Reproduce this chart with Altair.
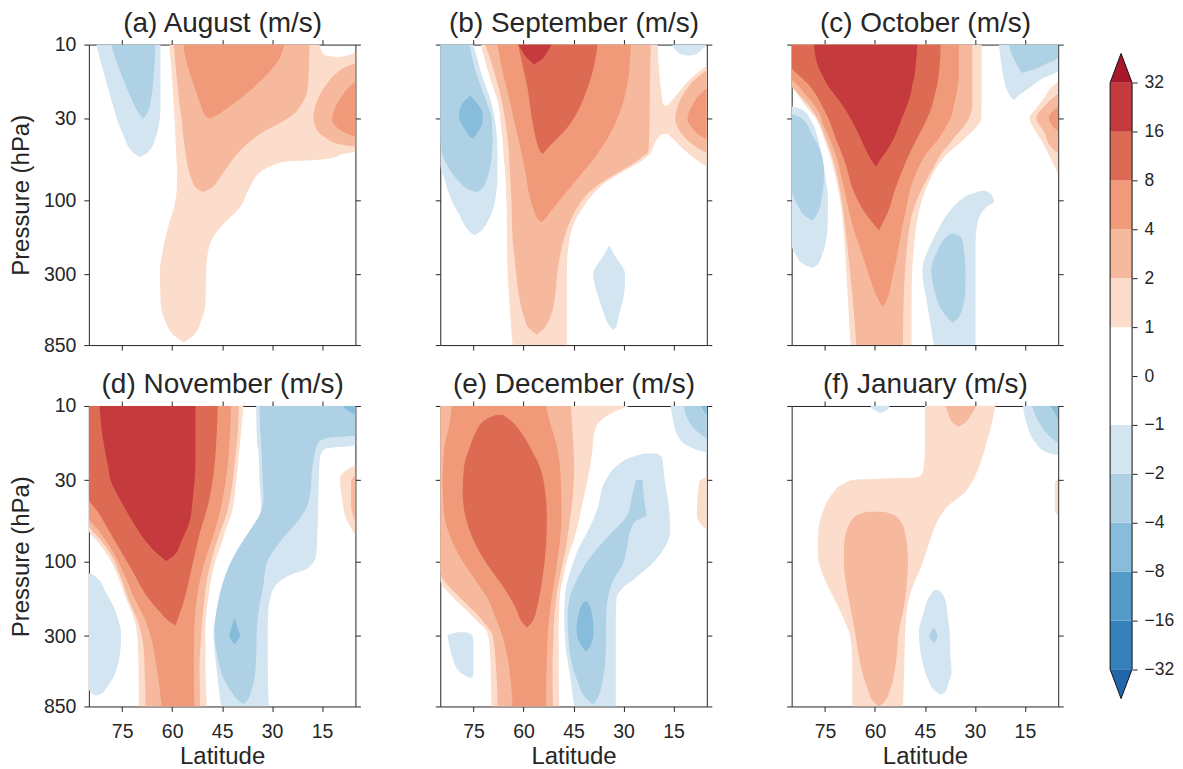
import altair as alt
import pandas as pd

# Contour bands.
# Each band: (level, [(pressure_hPa, poleward_edge_lat, equatorward_edge_lat), ...])
# level k>0 : u >= 1,2,4,8,16 m/s (k=1..5) ; level k<0 : u <= -1,-2,-4,-8,-16 m/s
AUG = [
    (1, [(10, 60.8, 15.8), (11.7, 60.6, 14.3), (12.4, 60.5, 5), (24.4, 59.5, 5), (39.9, 59.0, 5),
         (48.6, 58.8, 5), (50.5, 58.8, 8.8), (53.1, 58.7, 11.3), (55.2, 58.7, 17.8), (56.3, 58.7, 25.8),
         (59.1, 58.6, 29.3), (65.2, 58.5, 33.3), (83.4, 58.6, 36.8), (111.9, 59.5, 39.8), (143, 61.0, 44.8),
         (183, 62.3, 48.3), (234, 63.2, 49.5), (285, 63.7, 49.8), (465, 63.4, 50.0), (594, 62.1, 51.3),
         (723, 59.8, 53.3), (798, 57.3, 55.8), (818, 56.6, 56.6)]),
    (1, [(11.1, 5, 5), (11.7, 7.3, 5), (12.4, 12.8, 5)]),
    (2, [(10, 59.5, 18.8), (15, 58.8, 19.0), (19.1, 58.3, 19.3), (24.4, 57.8, 21.3), (28.3, 57.3, 23.8),
         (32, 57.0, 27.8), (37.1, 56.8, 33.3), (44, 56.3, 37.8), (56.3, 55.6, 42.3), (72, 54.3, 45.8),
         (83.4, 52.8, 48.3), (88.5, 50.8, 50.6)]),
    (2, [(13.2, 5, 5), (13.9, 7.8, 5), (15, 10.3, 5), (18.2, 13.8, 5), (23.3, 16.6, 5), (29.7, 17.6, 5),
         (34.5, 16.8, 5), (39.9, 13.8, 5), (43.6, 9.8, 5), (45.1, 5, 5)]),
    (3, [(10, 56.6, 26.3), (12.3, 56.0, 27.8), (15, 54.8, 30.8), (18.2, 53.5, 34.8), (21.6, 52.3, 38.8),
         (25, 51.3, 42.8), (28.6, 50.0, 46.8), (30, 48.8, 48.8)]),
    (3, [(17.3, 5, 5), (19.1, 7.3, 5), (21.1, 8.8, 5), (25.7, 11.2, 5), (29.7, 12.0, 5), (33.6, 10.8, 5),
         (37.1, 7.8, 5), (39, 5, 5)]),
    (-1, [(10, 82.8, 63.5), (15, 80.6, 63.5), (24.4, 77.8, 63.5), (31.2, 76.3, 63.8), (39.9, 74.3, 65.0),
          (46.3, 72.8, 66.3), (51, 70.8, 68.3), (52.6, 69.6, 69.6)]),
    (-2, [(10, 78.3, 65.0), (12.3, 77.0, 65.2), (16.5, 74.8, 65.6), (22.2, 72.3, 66.3), (27, 70.3, 67.3),
          (29.7, 68.8, 68.6)]),
]

SEP = [
    (1, [(10, 72.8, 19.8), (15, 70.6, 19.3), (19.1, 69.0, 18.8), (24.4, 67.5, 18.0), (25.9, 67.3, 5),
         (35.8, 66.6, 5), (38, 66.4, 18.8), (44, 66.2, 20.8), (51, 66.0, 22.3), (56.3, 65.8, 24.8),
         (62.1, 65.6, 28.3), (68.5, 65.5, 31.8), (79.4, 65.3, 36.3), (92, 65.2, 39.3), (106.6, 65.1, 41.6),
         (136, 65.0, 44.6), (174, 65.0, 46.1), (223, 64.9, 46.8), (285, 64.8, 47.0), (465, 64.2, 47.0),
         (850, 63.3, 47.0)]),
    (1, [(13.6, 5, 5), (16.5, 9.8, 5), (20.1, 13.3, 5), (24.4, 16.6, 5), (25.9, 17.8, 5)]),
    (1, [(35.8, 17.8, 5), (39.9, 15.3, 5), (46.3, 12.3, 5), (53.6, 8.8, 5), (60.6, 5, 5)]),
    (2, [(10, 71.5, 21.8), (15, 68.8, 22.0), (24.4, 66.3, 22.1), (39.9, 64.8, 22.3), (48.6, 64.4, 22.6),
         (53.6, 64.3, 24.8), (60.6, 64.2, 28.5), (72, 64.0, 34.5), (87.6, 63.8, 40.0), (106.6, 63.6, 43.3),
         (136, 63.5, 46.0), (174, 63.3, 47.8), (223, 62.8, 49.0), (285, 62.3, 49.8), (421, 61.3, 50.6),
         (566, 59.8, 52.0), (656, 58.6, 53.6), (730, 56.0, 56.0)]),
    (2, [(14.6, 5, 5), (16.5, 8.3, 5), (20.1, 11.6, 5), (24.4, 13.6, 5), (29.7, 14.5, 5), (36.2, 13.0, 5),
         (42, 10.3, 5), (47.4, 6.8, 5), (49.8, 5, 5)]),
    (3, [(10, 67.8, 27.8), (15, 66.3, 28.3), (22.2, 64.3, 29.8), (29.7, 63.0, 31.8), (39.9, 61.6, 34.8),
         (53.6, 60.3, 38.8), (68.5, 59.3, 42.8), (92, 58.3, 47.8), (117.6, 56.8, 51.8), (133, 55.6, 53.8),
         (137.6, 54.6, 54.6)]),
    (3, [(19.1, 5, 5), (21.1, 7.3, 5), (24.4, 9.3, 5), (29.7, 10.8, 5), (34.5, 9.3, 5), (38, 7.3, 5),
         (40.3, 5, 5)]),
    (4, [(10, 61.6, 37.8), (13.6, 60.3, 38.8), (19.1, 58.8, 40.8), (27, 57.8, 43.8), (36.2, 56.8, 47.8),
         (44, 55.8, 51.8), (48.6, 55.0, 53.6), (50.5, 54.3, 54.3)]),
    (5, [(10, 61.6, 51.6), (11.1, 60.3, 52.8), (12.3, 58.8, 54.3), (13.4, 56.8, 56.8)]),
    (-1, [(10, 85, 75.0), (15, 85, 72.8), (24.4, 85, 69.5), (39.9, 85, 68.0), (59.1, 85, 67.8),
          (72, 83.8, 67.8), (92, 82.3, 68.3), (106.6, 81.0, 68.8), (123.5, 79.3, 69.8), (143, 77.8, 71.3),
          (158, 76.3, 72.8), (167.5, 74.8, 74.8)]),
    (-1, [(194, 34.3, 34.3), (223, 35.8, 32.8), (299, 39.1, 29.5), (401, 37.8, 29.8), (539, 35.8, 31.3),
          (656, 33.8, 32.3), (682, 33.0, 33.0)]),
    (-1, [(10, 15.3, 5), (10.9, 14.3, 6.8), (11.6, 12.3, 8.8), (11.8, 10.6, 10.6)]),
    (-2, [(10, 85, 76.3), (15, 85, 74.3), (24.4, 85, 70.8), (29.7, 85, 69.6), (39.9, 85, 69.3),
          (51, 84.3, 69.5), (65.2, 81.8, 70.3), (75.6, 79.3, 71.3), (85.5, 76.3, 72.8), (88.5, 74.3, 74.3)]),
    (-3, [(21.3, 76.0, 76.0), (23.3, 78.0, 74.3), (28.3, 79.4, 72.3), (31.2, 79.0, 72.3), (34.5, 77.8, 73.0),
          (38, 76.6, 74.3), (40.3, 75.3, 75.3)]),
]

OCT = [
    (1, [(10, 85, 28.0), (18.2, 85, 28.0), (20.1, 83.8, 28.0), (24.4, 81.0, 28.0), (29.7, 77.8, 28.1),
         (39.9, 75.3, 33.0), (51, 73.6, 38.6), (60.6, 72.6, 41.3), (83.4, 71.1, 44.6), (117.6, 70.0, 46.8),
         (156, 69.4, 47.8), (223, 68.9, 48.5), (314, 68.5, 48.9), (443, 68.1, 49.0), (850, 67.3, 49.0)]),
    (1, [(17.3, 5, 5), (19.1, 7.3, 5), (22.2, 9.3, 5), (25.7, 11.6, 5), (29.7, 13.6, 5), (34.5, 12.3, 5),
         (42, 9.8, 5), (51, 7.8, 5), (68.5, 5, 5)]),
    (2, [(10, 85, 30.8), (18.2, 85, 30.8), (20.1, 83.6, 30.8), (24.4, 80.0, 30.8), (29.7, 77.3, 31.8),
         (39.9, 74.8, 36.3), (51, 73.0, 40.3), (60.6, 72.0, 42.3), (83.4, 70.6, 45.8), (117.6, 69.5, 48.6),
         (156, 68.8, 49.8), (223, 68.0, 50.6), (314, 67.3, 51.1), (443, 66.6, 51.4), (850, 65.6, 51.6)]),
    (2, [(20.6, 5, 5), (24.4, 8.8, 5), (29.7, 11.6, 5), (36.2, 9.3, 5), (46.3, 6.8, 5), (49.8, 5, 5)]),
    (3, [(10, 85, 34.8), (16.5, 85, 34.8), (18.2, 83.3, 35.1), (20.1, 81.6, 35.4), (24.4, 78.3, 36.3),
         (29.7, 76.0, 37.3), (31.2, 75.8, 37.8), (39.9, 73.6, 40.8), (51, 71.8, 44.8), (60.6, 70.8, 46.8),
         (83.4, 69.3, 49.3), (117.6, 67.8, 50.8), (156, 66.3, 52.0), (223, 63.8, 53.3), (314, 61.6, 54.8),
         (443, 58.8, 56.6), (483, 57.8, 57.8)]),
    (3, [(25, 5, 5), (29.7, 7.8, 5), (36.2, 5, 5)]),
    (4, [(10, 85, 40.3), (13.9, 85, 40.6), (16.5, 81.8, 41.0), (18.2, 79.8, 41.3), (20.1, 78.3, 41.8),
         (24.4, 76.0, 42.8), (29.7, 74.0, 44.3), (39.9, 71.8, 47.3), (51, 69.8, 49.8), (60.6, 68.6, 51.3),
         (83.4, 66.8, 53.8), (117.6, 63.3, 56.0), (156, 58.8, 58.8)]),
    (5, [(10, 78.3, 47.3), (13.9, 77.0, 47.8), (16.5, 75.3, 48.3), (18.2, 74.3, 48.8), (20.1, 72.8, 49.1),
         (24.4, 69.8, 50.3), (31.2, 66.8, 52.3), (39.9, 64.3, 54.3), (51, 62.0, 57.3), (56.3, 60.8, 58.8),
         (60.6, 59.6, 59.6)]),
    (-1, [(25, 85, 84.8), (26.3, 85, 81.6), (31.2, 85, 79.0), (39.9, 85, 77.1), (53.6, 85, 75.8),
          (72, 85, 74.8), (96.6, 85, 74.1), (143, 85, 74.2), (192, 85, 74.9), (223, 83.8, 75.8),
          (258, 81.3, 77.2), (271, 78.8, 78.8)]),
    (-1, [(86.7, 28.0, 26.8), (92, 31.8, 25.0), (101.5, 34.8, 24.3), (111.9, 36.8, 26.8), (129.7, 39.1, 28.8),
          (158, 41.3, 29.6), (192, 43.3, 29.8), (285, 45.8, 29.8), (465, 44.3, 29.8), (850, 42.3, 29.8)]),
    (-1, [(10, 22.8, 5), (12.3, 22.3, 5), (14.6, 21.8, 5), (16.5, 21.3, 9.8), (19.1, 20.6, 13.8),
          (21.6, 19.3, 17.3), (22.7, 18.3, 18.3)]),
    (-2, [(28, 85, 84.8), (29.7, 85, 82.0), (38, 85, 78.8), (48.6, 85, 76.3), (65.2, 85, 75.3),
          (87.6, 85, 75.6), (96.6, 84.3, 76.0), (111.9, 82.8, 76.6), (126.6, 80.8, 77.8), (134.9, 78.8, 78.8)]),
    (-2, [(164, 37.3, 36.3), (174, 38.8, 34.0), (212, 41.3, 33.3), (285, 43.1, 32.8), (382, 42.1, 32.9),
          (513, 39.8, 34.0), (594, 37.3, 35.8), (612, 36.6, 36.6)]),
    (-2, [(10, 19.8, 5), (12, 18.6, 5), (13.2, 17.6, 8.3), (14.2, 16.8, 11.3), (15, 16.0, 14.8),
          (15.2, 15.6, 15.6)]),
]

NOV = [
    (1, [(10, 85, 38.6), (18.8, 85, 39.8), (30.7, 85, 40.8), (50.2, 85, 42.3), (62.7, 85, 44.0),
         (74.4, 82.3, 45.0), (95.2, 78.8, 46.8), (128, 76.0, 48.3), (172, 73.8, 49.2), (220, 71.8, 49.8),
         (281, 70.6, 50.0), (460, 70.1, 50.0), (850, 70.0, 49.6)]),
    (1, [(24, 5, 5), (25.9, 7.8, 5), (29.2, 9.6, 5), (39.3, 9.0, 5), (52.8, 7.8, 5), (67.5, 5, 5)]),
    (2, [(10, 85, 40.0), (14.7, 85, 40.3), (24, 85, 41.3), (35.6, 85, 42.3), (50.2, 85, 43.8), (58.2, 85, 44.8),
         (70.9, 81.8, 46.3), (90.6, 78.3, 47.8), (128, 75.3, 49.5), (180, 72.8, 50.4), (242, 70.3, 51.0),
         (326, 68.8, 51.4), (460, 68.3, 51.8), (850, 68.0, 51.6)]),
    (2, [(27.8, 5, 5), (30.7, 6.3, 5), (43.3, 6.3, 5), (55.4, 5, 5)]),
    (3, [(10, 85, 42.3), (14.7, 85, 42.6), (24, 85, 43.3), (39.3, 85, 44.8), (51.5, 85, 46.0),
         (64.2, 81.8, 47.3), (86.3, 77.8, 49.3), (122, 74.3, 51.3), (172, 71.3, 52.6), (231, 68.3, 53.2),
         (310, 66.3, 53.4), (460, 64.8, 53.5), (850, 63.1, 53.3)]),
    (4, [(10, 85, 46.3), (14.7, 85, 46.6), (24, 85, 47.3), (39.3, 85, 48.8), (47.8, 82.3, 49.8),
         (64.2, 78.8, 51.6), (86.3, 75.3, 53.0), (116, 71.8, 54.4), (164, 67.8, 56.0), (209, 63.8, 57.5),
         (242, 60.8, 58.6), (257, 59.0, 59.0)]),
    (5, [(10, 81.8, 53.0), (16.2, 80.8, 53.0), (24, 79.3, 53.0), (30.7, 78.3, 53.3), (39.3, 75.8, 53.8),
         (55.4, 71.8, 54.8), (74.4, 67.8, 57.3), (90.6, 64.0, 59.3), (99, 61.8, 61.8)]),
    (-1, [(10, 34.8, 5), (17.9, 34.5, 5), (18.8, 34.2, 14.0), (21.2, 34.0, 15.6), (30.7, 33.8, 16.0),
          (43.3, 33.3, 16.2), (58.2, 34.8, 16.3), (74.4, 37.8, 16.5), (90.6, 40.3, 16.8), (110, 42.0, 19.3),
          (122, 42.8, 24.8), (141, 44.0, 28.8), (172, 45.3, 30.6), (220, 46.8, 31.2), (281, 47.6, 31.3),
          (460, 46.8, 31.3), (850, 45.3, 31.0)]),
    (-1, [(119, 85, 84.3), (128, 85, 82.3), (156, 85, 80.0), (190, 85, 77.8), (231, 85, 76.3), (295, 85, 75.3),
          (378, 85, 75.6), (460, 85, 76.3), (560, 85, 77.8), (649, 85, 79.8), (709, 83.8, 81.6),
          (723, 82.8, 82.8)]),
    (-2, [(10, 33.8, 5), (15.4, 33.5, 5), (16, 33.4, 13.3), (17.4, 33.3, 16.3), (24, 33.0, 17.8),
          (39.3, 32.6, 18.8), (47.8, 33.3, 20.3), (58.2, 35.6, 23.3), (70.9, 38.3, 26.8), (86.3, 40.8, 29.8),
          (105, 42.8, 31.8), (141, 45.0, 32.6), (190, 46.4, 33.8), (281, 47.3, 34.6), (417, 46.3, 34.8),
          (560, 44.6, 35.3), (681, 42.3, 36.3), (770, 40.3, 37.3), (821, 38.6, 38.6)]),
    (-3, [(10, 8.8, 5), (10.7, 7.3, 5), (11.4, 5, 5)]),
    (-3, [(231, 41.3, 41.1), (268, 42.3, 40.3), (298, 42.8, 39.6), (326, 42.0, 40.6), (339, 41.3, 41.3)]),
]

DEC = [
    (1, [(10, 85, 28.3), (10.9, 85, 32.8), (12.4, 85, 36.8), (14.7, 85, 38.8), (18.8, 85, 39.3),
         (26.5, 85, 40.3), (37.4, 85, 41.8), (52.8, 85, 43.3), (70.9, 85, 44.8), (95.2, 85, 46.8),
         (131, 85, 48.3), (164, 81.8, 49.1), (199, 77.8, 49.3), (242, 73.8, 49.4), (281, 71.0, 49.5),
         (359, 70.1, 49.5), (588, 69.8, 49.4), (850, 69.6, 49.3)]),
    (1, [(28.5, 5, 5), (30.7, 7.3, 5), (50.2, 8.0, 5), (58.2, 6.6, 5), (62.7, 5, 5)]),
    (2, [(10, 85, 45.8), (14.7, 85, 45.3), (24, 85, 44.8), (39.3, 85, 45.3), (58.2, 85, 46.3), (82.1, 85, 47.3),
         (116, 85, 48.8), (141, 82.8, 49.6), (172, 78.8, 50.2), (209, 74.8, 50.6), (255, 71.3, 50.9),
         (295, 69.3, 51.0), (460, 68.3, 51.3), (850, 67.8, 51.2)]),
    (3, [(10, 81.6, 53.3), (13.3, 82.3, 51.8), (18.8, 83.8, 49.8), (30.7, 84.3, 48.8), (50.2, 83.8, 48.6),
         (70.9, 81.8, 49.0), (95.2, 78.8, 49.8), (128, 74.8, 50.6), (172, 70.8, 51.6), (231, 68.3, 52.3),
         (281, 66.8, 52.7), (417, 64.8, 53.0), (850, 63.3, 53.3)]),
    (4, [(11.4, 68.3, 66.3), (12.4, 71.8, 63.8), (14.7, 74.3, 60.8), (18.8, 76.3, 57.8), (24, 77.8, 55.3),
         (35.6, 78.3, 53.5), (52.8, 77.3, 53.0), (74.4, 74.8, 53.2), (105, 70.8, 53.8), (148, 65.8, 54.8),
         (199, 62.3, 56.0), (242, 60.6, 57.3), (265, 59.0, 59.0)]),
    (-1, [(10, 15.8, 5), (12.7, 15.0, 5), (15.4, 13.8, 5), (17.9, 11.0, 5), (19.2, 7.8, 5), (19.9, 5, 5)]),
    (-1, [(20.2, 23.8, 19.8), (21.8, 28.8, 18.3), (24, 31.8, 18.1), (30.7, 35.6, 17.6), (45.5, 37.8, 16.3),
          (64.2, 40.8, 16.0), (82.1, 43.5, 17.8), (105, 45.3, 21.8), (128, 46.6, 26.6), (148, 47.3, 30.3),
          (172, 47.6, 32.1), (220, 47.8, 32.3), (359, 47.3, 32.3), (588, 45.8, 32.3), (850, 44.8, 32.3)]),
    (-1, [(284, 79.8, 77.3), (298, 82.8, 75.3), (342, 82.3, 75.0), (417, 81.3, 75.0), (507, 79.3, 75.0),
          (546, 77.0, 75.3), (560, 76.0, 76.0)]),
    (-2, [(10, 11.8, 5), (12.1, 10.8, 5), (14, 8.8, 5), (16.2, 5, 5)]),
    (-2, [(29.9, 26.3, 24.3), (39.3, 27.6, 23.8), (50.2, 28.8, 23.2), (55.4, 30.3, 26.6), (64.2, 33.3, 28.0),
          (82.1, 37.8, 29.0), (105, 41.6, 30.3), (128, 43.8, 32.8), (156, 45.6, 34.3), (220, 46.8, 35.2),
          (359, 46.3, 35.3), (588, 43.8, 36.3), (752, 41.3, 37.8), (830, 39.0, 39.0)]),
    (-3, [(10, 6.8, 5), (11.5, 5, 5)]),
    (-3, [(180, 42.0, 40.8), (209, 43.3, 39.6), (281, 44.1, 39.0), (342, 42.8, 39.8), (378, 41.3, 41.3)]),
]

JAN = [
    (1, [(10, 45.0, 23.8), (14.7, 45.0, 25.6), (18.8, 45.0, 27.0), (24, 45.3, 28.6), (27.2, 45.8, 29.6),
         (28.7, 47.3, 30.1), (29.8, 66.3, 30.5), (31.5, 69.3, 31.1), (33.9, 71.6, 32.1), (35.6, 72.3, 32.8),
         (39.3, 73.8, 35.3), (43.3, 74.8, 37.8), (52.8, 76.3, 40.8), (64.2, 77.0, 42.6), (74.4, 77.1, 43.6),
         (95.2, 77.0, 45.3), (110, 76.3, 46.3), (141, 74.3, 48.5), (190, 71.3, 50.2), (255, 68.6, 50.8),
         (310, 67.3, 51.0), (460, 66.8, 51.2), (850, 66.8, 51.6)]),
    (1, [(29.2, 5, 5), (31.5, 6.0, 5), (45.5, 6.0, 5), (51.5, 5, 5)]),
    (2, [(47.8, 62.3, 57.3), (50.2, 65.3, 54.3), (55.4, 67.3, 52.3), (64.2, 68.6, 51.0), (82.1, 69.3, 50.3),
         (105, 69.3, 50.1), (134, 68.8, 50.4), (190, 67.5, 51.2), (281, 66.0, 52.8), (460, 64.3, 53.8),
         (649, 62.3, 55.3), (798, 60.3, 57.3), (850, 58.8, 58.8)]),
    (2, [(10, 38.8, 29.6), (11.5, 37.8, 31.3), (12.7, 36.8, 32.8), (13.6, 35.0, 35.0)]),
    (-1, [(10, 61.3, 55.6), (10.7, 60.0, 56.6), (11.1, 58.3, 58.3)]),
    (-1, [(10, 15.6, 5), (13.3, 14.3, 5), (17, 12.0, 5), (19.7, 8.8, 5), (20.7, 5, 5)]),
    (-1, [(152, 42.3, 40.8), (172, 44.0, 39.0), (220, 45.6, 38.2), (281, 46.8, 37.6), (417, 46.0, 37.3),
          (507, 45.0, 37.0), (588, 43.8, 37.8), (681, 41.8, 38.8), (716, 40.3, 40.3)]),
    (-2, [(10, 12.8, 5), (12.1, 11.3, 5), (14.7, 8.8, 5), (17.4, 5, 5)]),
    (-2, [(265, 42.3, 42.3), (298, 43.6, 41.2), (334, 42.3, 42.3)]),
    (-3, [(10, 7.3, 5), (12.1, 5, 5)]),
]

TITLES = ["(a) August (m/s)", "(b) September (m/s)", "(c) October (m/s)",
          "(d) November (m/s)", "(e) December (m/s)", "(f) January (m/s)"]
FIELDS = [AUG, SEP, OCT, NOV, DEC, JAN]

LAT_TICKS = [75, 60, 45, 30, 15]
P_TICKS = [10, 30, 100, 300, 850]
CB_TICKS = [-32, -16, -8, -4, -2, -1, 0, 1, 2, 4, 8, 16, 32]
THRESHOLDS = [1, 2, 4, 8, 16, 32]

# ---- styles ----
LEVEL_COLORS = {
    6: "#a8172b", 5: "#c53a3d", 4: "#dd6b54", 3: "#f09a7a", 2: "#f7b99d", 1: "#fcdccb", 0: "#ffffff",
    -1: "#d3e5f1", -2: "#aed1e5", -3: "#87bddb", -4: "#559bc9", -5: "#3581bc", -6: "#2166ac",
}
FONT = "Liberation Sans"
INK = "#262626"
W, H = 267, 301
DRAW_ORDER = [1, 2, 3, 4, 5, -1, -2, -3, -4, -5]

records = []
for pi, bands in enumerate(FIELDS):
    for bi, (lev, pts) in enumerate(bands):
        for k, (p, la, lb) in enumerate(pts):
            records.append(dict(panel=pi, band=bi, lev=lev, k=k, p=p, lat_a=la, lat_b=lb))
df = pd.DataFrame(records)

XS = alt.Scale(domain=[5, 85], reverse=True, nice=False, zero=False)
YS = alt.Scale(type="log", domain=[10, 850], reverse=True, nice=False)


def area_layers(pdf):
    layers = []
    for lev in DRAW_ORDER:
        sub = pdf[pdf.lev == lev]
        if sub.empty:
            continue
        layers.append(
            alt.Chart(sub).mark_area(orient="horizontal", interpolate="monotone",
                                     color=LEVEL_COLORS[lev], clip=True).encode(
                y=alt.Y("p:Q", scale=YS, axis=None),
                x=alt.X("lat_a:Q", scale=XS, axis=None, stack=None),
                x2=alt.X2("lat_b"),
                detail=alt.Detail("band:N"),
            )
        )
    return layers


def make_panel(pi, bottom_row, left_col):
    pdf = df[df.panel == pi]
    layers = area_layers(pdf)
    xaxis = alt.Axis(orient="bottom", values=LAT_TICKS, labels=bottom_row, format="d",
                     title="Latitude" if bottom_row else None, tickSize=5, labelPadding=11,
                     titlePadding=4, labelFontSize=19.5, titleFontSize=24, labelFlush=False)
    yaxis = alt.Axis(orient="left", values=P_TICKS, labels=left_col, format="d",
                     title="Pressure (hPa)" if left_col else None, tickSize=5, labelPadding=8,
                     titlePadding=10, labelFontSize=19.5, titleFontSize=24, labelFlush=False,
                     labelOverlap=False)
    carrier1 = alt.Chart(pdf).mark_point(opacity=0, clip=True).encode(
        x=alt.X("lat_a:Q", scale=XS, axis=xaxis),
        y=alt.Y("p:Q", scale=YS, axis=yaxis),
    )
    carrier2 = alt.Chart(pdf).mark_point(opacity=0, clip=True).encode(
        x=alt.X("lat_a:Q", scale=XS, axis=alt.Axis(orient="top", values=LAT_TICKS, labels=False,
                                                   title=TITLES[pi], titleFontSize=28, titlePadding=2,
                                                   tickSize=5)),
        y=alt.Y("p:Q", scale=YS, axis=alt.Axis(orient="right", values=P_TICKS, labels=False,
                                               title=None, tickSize=5)),
    )
    return alt.layer(*layers, carrier1, carrier2).resolve_axis(
        x="independent", y="independent"
    ).properties(width=W, height=H)


row1 = alt.hconcat(make_panel(0, False, True), make_panel(1, False, False), make_panel(2, False, False),
                   spacing=73)
row2 = alt.hconcat(make_panel(3, True, True), make_panel(4, True, False), make_panel(5, True, False),
                   spacing=73)
grid = alt.vconcat(row1, row2, spacing=15)

# ---- colorbar ----
n = len(CB_TICKS) - 1
half = n // 2
cells = []
for i in range(n):
    mid = (CB_TICKS[i] + CB_TICKS[i + 1]) / 2
    mag = sum(1 for t in THRESHOLDS if abs(mid) >= t)
    cells.append(dict(y0=i - half, y1=i - half + 1, lev=mag if mid > 0 else -mag))
cells_df = pd.DataFrame(cells)

EXT = 0.6
ext_lev = len(THRESHOLDS)
tri_top = pd.DataFrame([dict(tx=tx, ty=half + (EXT if tx == 0.5 else 0), tb=half, lev=ext_lev)
                        for tx in (0, 0.5, 1)])
tri_bot = pd.DataFrame([dict(tx=tx, ty=-half - (EXT if tx == 0.5 else 0), tb=-half, lev=-ext_lev)
                        for tx in (0, 0.5, 1)])
outline = [(0, -half), (0, half), (0.5, half + EXT), (1, half), (1, -half), (0.5, -half - EXT), (0, -half)]
outline_df = pd.DataFrame([dict(k=k, tx=x, ty=y) for k, (x, y) in enumerate(outline)])

CBX = alt.Scale(domain=[0, 1], nice=False, zero=False)
CBY = alt.Scale(domain=[-6.7, 6.782], nice=False, zero=False)
labels = [str(t).replace("-", "\u2212") for t in CB_TICKS]
label_expr = "[" + ",".join("'%s'" % l for l in labels) + "][datum.value + %d]" % half
cb_axis = alt.Axis(orient="right", values=list(range(-half, half + 1)), labelExpr=label_expr, tickSize=5,
                   labelPadding=7, labelFontSize=17.5, title=None, domain=False, grid=False,
                   labelFlush=False, labelOverlap=False)

lev_dom = sorted(LEVEL_COLORS)
cell_colors = alt.Chart(cells_df).mark_rect().encode(
    y=alt.Y("y0:Q", scale=CBY, axis=cb_axis),
    y2=alt.Y2("y1"),
    x=alt.value(0),
    x2=alt.value("width"),
    color=alt.Color("lev:O", scale=alt.Scale(domain=lev_dom, range=[LEVEL_COLORS[l] for l in lev_dom]),
                    legend=None),
)
tri_layers = [
    alt.Chart(t).mark_area(orient="vertical", interpolate="linear",
                           color=LEVEL_COLORS[int(t.lev.iloc[0])]).encode(
        x=alt.X("tx:Q", scale=CBX, axis=None),
        y=alt.Y("ty:Q", scale=CBY, axis=cb_axis, stack=None),
        y2=alt.Y2("tb"),
    )
    for t in (tri_top, tri_bot)
]
cb_line = alt.Chart(outline_df).mark_line(color="#111111", strokeWidth=1, interpolate="linear").encode(
    x=alt.X("tx:Q", scale=CBX, axis=None),
    y=alt.Y("ty:Q", scale=CBY, axis=cb_axis),
    order=alt.Order("k:Q"),
)
colorbar = alt.layer(cell_colors, *tri_layers, cb_line).properties(
    width=22, height=660, view=alt.ViewBackground(stroke="transparent")
)

chart = alt.hconcat(grid, colorbar, spacing=43).properties(
    padding={"left": 0, "top": 0, "right": 0, "bottom": 0}
).configure(font=FONT).configure_view(stroke=INK, strokeWidth=1).configure_axis(
    labelColor=INK, titleColor=INK, tickColor=INK, domain=False, grid=False,
    labelFont=FONT, titleFont=FONT, titleFontWeight="normal",
)

chart.save("out.html", embed_options={"renderer": "svg", "actions": False})
